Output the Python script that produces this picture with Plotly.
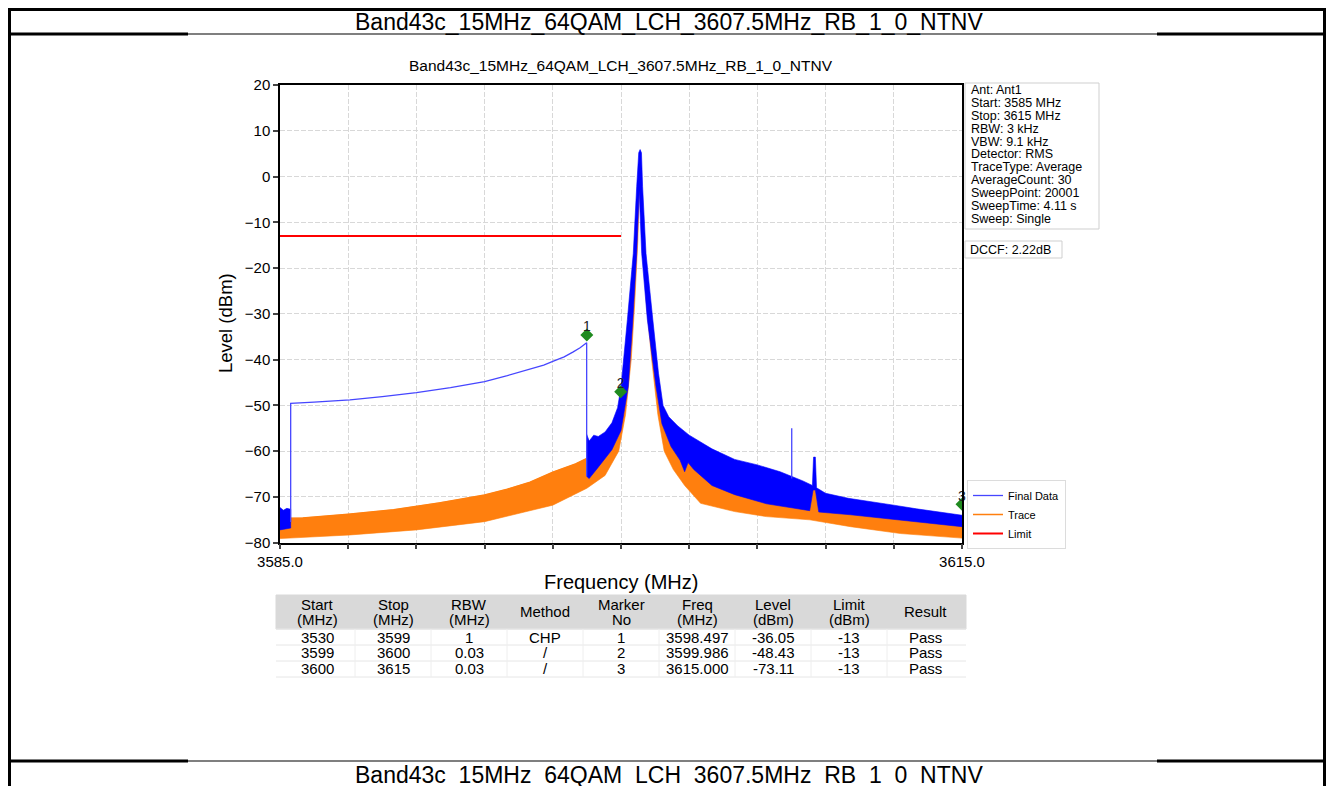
import plotly.graph_objects as go

W, H = 1338, 786
OFF = 8  # the page body margin moves the figure by this many pixels
FONT = "Liberation Sans, Arial, sans-serif"

# ---------------- data ----------------
page_title = "Band43c_15MHz_64QAM_LCH_3607.5MHz_RB_1_0_NTNV"
chart_title = "Band43c_15MHz_64QAM_LCH_3607.5MHz_RB_1_0_NTNV"

x_ticks = [3585, 3588, 3591, 3594, 3597, 3600, 3603, 3606, 3609, 3612, 3615]
x_tick_text = ["3585.0", "", "", "", "", "", "", "", "", "", "3615.0"]

# Final Data (blue) - noise band left of the CHP segment
fd_a_up_f = [3585.0, 3585.15, 3585.3, 3585.47]
fd_a_up_l = [-72.3, -72.9, -72.5, -72.7]
fd_a_lo_f = [3585.0, 3585.47]
fd_a_lo_l = [-77.2, -76.8]

# Final Data (blue) - noise band from 3598.5 MHz to the stop frequency
fd_b_up_f = [3598.49, 3598.6, 3598.8, 3599.0, 3599.3, 3599.6, 3599.85, 3600.0, 3600.28,
             3600.54, 3600.69, 3600.78, 3600.84, 3600.9, 3600.95, 3601.1, 3601.4, 3601.65,
             3601.85, 3602.1, 3602.5, 3603.0, 3604.0, 3605.0, 3606.0, 3607.0, 3608.0,
             3608.42, 3608.47, 3608.55, 3608.6, 3609.0, 3610.0, 3611.0, 3612.0, 3613.0,
             3614.0, 3615.0]
fd_b_up_l = [-56.3, -57.8, -56.5, -56.8, -55.8, -53.8, -50.5, -46.0, -31.3,
             -16.8, -2.2, 5.2, 5.9, 5.2, -2.2, -16.8, -31.3, -43.0,
             -50.0, -52.5, -54.5, -56.5, -59.5, -61.8, -63.0, -64.5, -66.5,
             -67.5, -61.3, -61.3, -68.0, -69.2, -70.3, -71.0, -71.8, -72.6,
             -73.3, -74.0]
fd_b_lo_f = [3598.49, 3598.6, 3599.0, 3599.6, 3600.0, 3600.32, 3600.52, 3600.69, 3600.8,
             3600.91, 3601.16, 3601.54, 3601.8, 3602.2, 3602.6, 3602.8, 3602.95, 3603.2,
             3604.0, 3605.0, 3606.4, 3608.3, 3608.45, 3608.55, 3608.7, 3610.1, 3612.3, 3615.0]
fd_b_lo_l = [-65.5, -66.0, -63.5, -59.7, -55.5, -45.9, -31.3, -16.8, -3.0,
             -16.8, -31.3, -45.9, -54.0, -59.0, -62.0, -64.5, -62.5, -64.0,
             -67.5, -69.5, -71.5, -73.0, -68.5, -68.5, -73.3, -73.9, -75.0, -76.5]

# Final Data (blue) - CHP result line and the spike at the channel centre
fd_line_f = [3585.47, 3585.47, 3586.5, 3588.08, 3589.5, 3591.0, 3592.5, 3594.0, 3595.0,
             3596.14, 3596.6, 3597.0, 3597.5, 3597.9, 3598.2, 3598.49, 3598.49,
             None, 3607.51, 3607.51]
fd_line_l = [-75.5, -49.55, -49.3, -48.8, -48.1, -47.2, -46.1, -44.8, -43.5,
             -41.9, -41.2, -40.4, -39.4, -38.3, -37.4, -36.3, -65.5,
             None, -66.0, -55.0]

# Trace (orange) - noise band envelopes
tr_up_f = [3585.0, 3586.0, 3588.0, 3590.0, 3592.0, 3594.0, 3595.0, 3596.0, 3597.0, 3598.0,
           3598.5, 3599.0, 3599.5, 3599.9, 3600.0, 3600.32, 3600.57, 3600.72, 3600.82,
           3600.86, 3600.92, 3601.1, 3601.38, 3601.7, 3601.9, 3602.2, 3602.6, 3602.8,
           3602.95, 3603.2, 3604.0, 3605.0, 3606.4, 3608.3, 3608.45, 3608.55, 3608.7,
           3610.1, 3612.3, 3615.0]
tr_up_l = [-74.7, -74.6, -73.8, -72.8, -71.3, -69.6, -68.3, -66.8, -64.6, -62.8,
           -61.6, -60.3, -58.5, -55.0, -52.0, -36.0, -21.0, -7.0, 0.0,
           0.0, -7.0, -21.0, -36.0, -49.0, -55.0, -59.0, -62.0, -64.5,
           -62.5, -64.0, -67.5, -69.5, -71.5, -73.0, -68.5, -68.5, -73.3,
           -73.9, -75.0, -76.5]
tr_lo_f = [3585.0, 3588.1, 3591.0, 3594.0, 3596.1, 3597.0, 3598.5, 3599.3, 3599.9, 3600.2,
           3600.45, 3600.6, 3600.74, 3600.8, 3600.85, 3600.95, 3601.12, 3601.35, 3601.62,
           3601.9, 3602.3, 3602.8, 3603.5, 3605.0, 3606.4, 3608.3, 3610.1, 3612.3, 3615.0]
tr_lo_l = [-79.1, -78.3, -77.2, -75.4, -72.9, -71.8, -68.1, -65.3, -60.0, -52.0,
           -40.0, -28.0, -14.0, -4.0, -4.0, -14.0, -28.0, -40.0, -52.0,
           -60.0, -64.0, -67.5, -71.4, -73.2, -74.3, -75.0, -76.5, -78.0, -79.0]

# Limit line
limit_f = [3585.0, 3600.0]
limit_l = [-13.0, -13.0]

# markers: numbers and where the diamonds sit on the plot
marker_no = [1, 2, 3]
marker_drawn_f = [3598.497, 3599.986, 3615.0]
marker_drawn_l = [-34.6, -47.0, -71.6]

info_lines = ["Ant: Ant1", "Start: 3585 MHz", "Stop: 3615 MHz", "RBW: 3 kHz",
              "VBW: 9.1 kHz", "Detector: RMS", "TraceType: Average", "AverageCount: 30",
              "SweepPoint: 20001", "SweepTime: 4.11 s", "Sweep: Single"]
dccf_text = "DCCF: 2.22dB"

tbl_head1 = ["Start", "Stop", "RBW", "Method", "Marker", "Freq", "Level", "Limit", "Result"]
tbl_head2 = ["(MHz)", "(MHz)", "(MHz)", "", "No", "(MHz)", "(dBm)", "(dBm)", ""]
tbl_start = ["3530", "3599", "3600"]
tbl_stop = ["3599", "3600", "3615"]
tbl_rbw = ["1", "0.03", "0.03"]
tbl_method = ["CHP", "/", "/"]
tbl_marker = ["1", "2", "3"]
tbl_freq = ["3598.497", "3599.986", "3615.000"]
tbl_level = ["-36.05", "-48.43", "-73.11"]
tbl_limit = ["-13", "-13", "-13"]
tbl_result = ["Pass", "Pass", "Pass"]

BLUE = "#0000ff"
ORANGE = "#ff7f0e"


def fx(x):
    return (x - OFF) / W


def fy(y):
    return 1 - (y - OFF) / H


def poly(up_f, up_l, lo_f, lo_l):
    return up_f + lo_f[::-1], up_l + lo_l[::-1]


fig = go.Figure()

# orange band first, blue drawn over it
ox, oy = poly(tr_up_f, tr_up_l, tr_lo_f, tr_lo_l)
fig.add_trace(go.Scatter(x=ox, y=oy, mode="lines", fill="toself", fillcolor=ORANGE,
                         line=dict(color=ORANGE, width=0.6), showlegend=False,
                         hoverinfo="skip"))
fig.add_trace(go.Scatter(x=tr_up_f, y=tr_up_l, mode="lines", name="Trace",
                         line=dict(color=ORANGE, width=1.5), legendrank=2))

for uf, ul, lf, ll in [(fd_a_up_f, fd_a_up_l, fd_a_lo_f, fd_a_lo_l),
                       (fd_b_up_f, fd_b_up_l, fd_b_lo_f, fd_b_lo_l)]:
    bx, by = poly(uf, ul, lf, ll)
    fig.add_trace(go.Scatter(x=bx, y=by, mode="lines", fill="toself", fillcolor=BLUE,
                             line=dict(color=BLUE, width=0.6), showlegend=False,
                             hoverinfo="skip"))

fig.add_trace(go.Scatter(x=fd_line_f, y=fd_line_l, mode="lines", name="Final Data",
                         line=dict(color="#4646ff", width=1.3), legendrank=1))

fig.add_trace(go.Scatter(x=limit_f, y=limit_l, mode="lines", name="Limit",
                         line=dict(color="#ff0000", width=2), legendrank=3))

fig.add_trace(go.Scatter(x=marker_drawn_f, y=marker_drawn_l, mode="markers",
                         marker=dict(symbol="diamond", size=10, color="#1f8a1f"),
                         showlegend=False))
fig.add_trace(go.Scatter(x=marker_drawn_f, y=marker_drawn_l, mode="text",
                         text=[str(m) for m in marker_no], textposition="top center",
                         textfont=dict(size=14, color="#222222", family=FONT),
                         cliponaxis=False, showlegend=False))

shapes = []
ann = []


def hline(y, x0, x1, w, c="black"):
    shapes.append(dict(type="line", xref="paper", yref="paper", x0=fx(x0), x1=fx(x1),
                       y0=fy(y), y1=fy(y), line=dict(color=c, width=w)))


def vline(x, y0, y1, w, c="black"):
    shapes.append(dict(type="line", xref="paper", yref="paper", x0=fx(x), x1=fx(x),
                       y0=fy(y0), y1=fy(y1), line=dict(color=c, width=w)))


def rect(x0, y0, x1, y1, lc, fc="rgba(0,0,0,0)", w=1, layer="above"):
    shapes.append(dict(type="rect", xref="paper", yref="paper", x0=fx(x0), x1=fx(x1),
                       y0=fy(y1), y1=fy(y0), line=dict(color=lc, width=w),
                       fillcolor=fc, layer=layer))


def text(x, y, s, size, xanchor="center", yanchor="middle", color="black", angle=0):
    ann.append(dict(xref="paper", yref="paper", x=fx(x), y=fy(y), text=s,
                    showarrow=False, xanchor=xanchor, yanchor=yanchor, textangle=angle,
                    font=dict(family=FONT, size=size, color=color)))


# page frame of the document
hline(9.5, 8, 1326, 3)
vline(9.5, 8, 800, 3)
vline(1324.5, 8, 800, 3)
for yy in (34, 761):
    hline(yy, 8, 188, 3)
    hline(yy, 188, 1157, 1.2)
    hline(yy, 1157, 1326, 3)
text(669, 22, page_title, 23)
text(669, 790, page_title, 23, yanchor="bottom")

# chart texts
text(621, 66, chart_title, 15.5)
text(226, 323, "Level (dBm)", 18.5, angle=-90)
text(621, 582, "Frequency (MHz)", 20)

# info box
rect(965, 83, 1099, 229, "#cfcfcf")
for i, s in enumerate(info_lines):
    text(969, 90 + 12.9 * i, s, 12.5, xanchor="left")
rect(965, 241, 1062, 258, "#cfcfcf")
text(968, 250, dccf_text, 12.5, xanchor="left")

# result table
col_w = 76
x_left = 279
rect(x_left - 3, 595, x_left + 9 * col_w + 3, 629, "#d9d9d9", "#d9d9d9", layer="below")
for r in range(4):
    hline(629 + 16 * r, x_left - 3, x_left + 9 * col_w + 3, 1, "#e6e6e6")
for c in range(1, 9):
    vline(x_left + c * col_w, 629, 677, 1, "#eeeeee")
cols = [tbl_start, tbl_stop, tbl_rbw, tbl_method, tbl_marker, tbl_freq, tbl_level,
        tbl_limit, tbl_result]
for c in range(9):
    cx = x_left + col_w * c + col_w / 2
    if tbl_head2[c]:
        text(cx, 604, tbl_head1[c], 15)
        text(cx, 619, tbl_head2[c], 15)
    else:
        text(cx, 611, tbl_head1[c], 15)
    for r in range(3):
        text(cx, 637 + 15.7 * r, cols[c][r], 15)

fig.update_layout(
    width=W, height=H,
    margin=dict(l=0, r=0, t=0, b=0, pad=0, autoexpand=False),
    paper_bgcolor="white", plot_bgcolor="white",
    font=dict(family=FONT, color="black"),
    shapes=shapes, annotations=ann,
    legend=dict(x=fx(967), y=fy(480), xanchor="left", yanchor="top",
                font=dict(family=FONT, size=11), bgcolor="white",
                bordercolor="#dcdcdc", borderwidth=1, tracegroupgap=0),
    xaxis=dict(domain=[fx(280), fx(962)], range=[3585, 3615], tickvals=x_ticks,
               ticktext=x_tick_text, ticks="outside", ticklen=5, tickwidth=1.5,
               showline=True, linecolor="black", linewidth=1.5, mirror=True,
               showgrid=True, gridcolor="#d8d8d8", griddash="5px,2px", zeroline=False,
               tickfont=dict(size=15), automargin=False),
    yaxis=dict(domain=[fy(542.7), fy(85)], range=[-80, 20], dtick=10,
               ticks="outside", ticklen=5, tickwidth=1.5,
               showline=True, linecolor="black", linewidth=1.5, mirror=True,
               showgrid=True, gridcolor="#d8d8d8", griddash="5px,2px", zeroline=False,
               tickfont=dict(size=15), automargin=False),
)

fig.write_html("out.html")
